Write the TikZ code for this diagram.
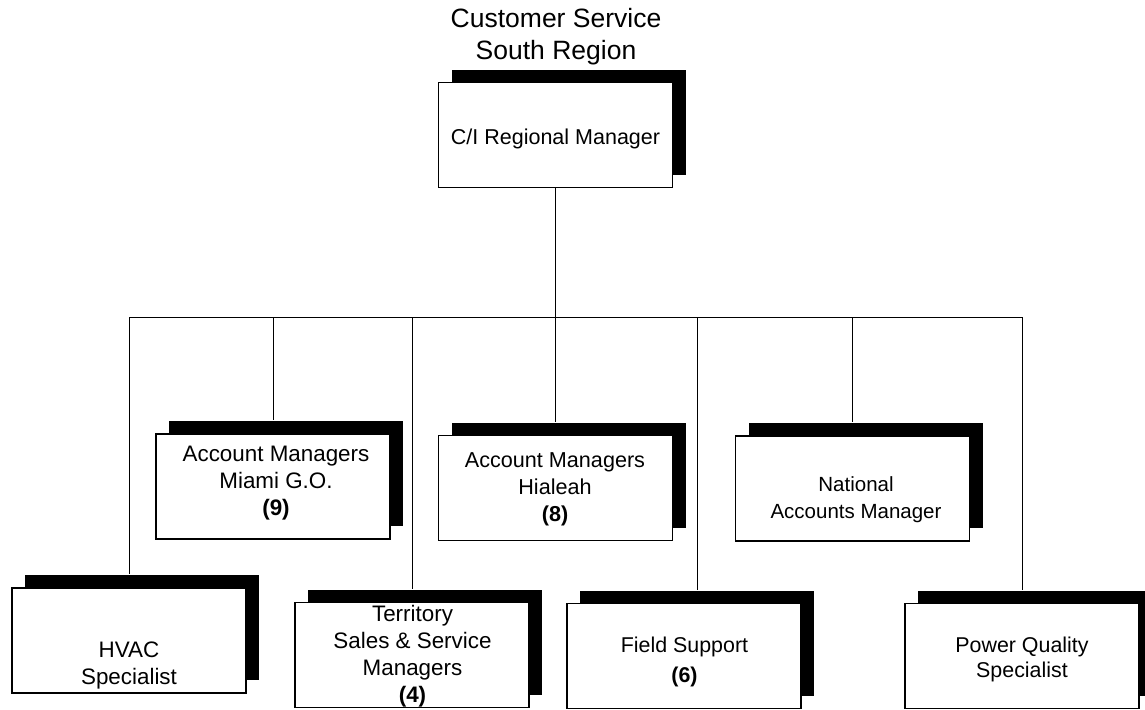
\documentclass[tikz,border=0pt]{standalone}
\usepackage{fontspec}
\setmainfont{Liberation Sans}
\usetikzlibrary{calc,shadows}

\begin{document}
\begin{tikzpicture}[x=1pt,y=-1pt,
  orgbox/.style={draw=black, line width=1.4pt, fill=white,
    minimum width=234pt, minimum height=105pt, inner sep=0pt,
    general shadow={shadow xshift=13pt, shadow yshift=13pt, fill=black}},
  boxtext/.style={align=center, inner sep=0pt, font=\fontsize{#1pt}{27pt}\selectfont},
  boxtext/.default=21.5,
  link/.style={draw=black, line width=0.9pt}]

\useasboundingbox (0,0) rectangle (1145,709);

% heading
\node[align=center, inner sep=0pt, font=\fontsize{26.5pt}{32pt}\selectfont]
  (title) at (556,37) {Customer Service\\South Region};

% boxes (each with its solid drop shadow)
\node[orgbox] (top) at (555.5,135) {};
\node[orgbox] (mia) at (273,486.5) {};
\node[orgbox] (hia) at (555.5,488) {};
\node[orgbox] (nat) at (852.5,488.5) {};
\node[orgbox] (hv)  at (129,640.5) {};
\node[orgbox] (ter) at (412,655) {};
\node[orgbox] (fs)  at (684,656) {};
\node[orgbox] (pq)  at (1022,656) {};

% box captions
\node[boxtext] (top-t) at (555.5,139) {C/I Regional Manager};
\node[boxtext=22.4] (mia-t) at (276,483) {Account Managers\\Miami G.O.\\\textbf{(9)}};
\node[boxtext=21.6] (hia-t) at (555,489) {Account Managers\\Hialeah\\\textbf{(8)}};
\node[boxtext=20.5] (nat-t) at (856,500) {National\\Accounts Manager};
\node[boxtext=22.4] (hv-t)  at (129,665) {HVAC\\Specialist};
\node[boxtext=22.4] (ter-t) at (412.5,656) {Territory\\Sales \& Service\\Managers\\\textbf{(4)}};
\node[align=center, inner sep=0pt, font=\fontsize{21.4pt}{30pt}\selectfont]
  (fs-t) at (684.5,662) {Field Support\\\textbf{(6)}};
\node[align=center, inner sep=0pt, font=\fontsize{21.4pt}{25pt}\selectfont]
  (pq-t) at (1022,659) {Power Quality\\Specialist};

% connectors
\coordinate (bus) at (0,317);
\draw[link] (top.south) -- (top.south |- bus);
\draw[link] (hv.north |- bus) -- (pq.north |- bus);
\foreach \n in {mia,hia,nat,hv,ter,pq}{
  \coordinate (\n-in) at ($(\n.north)+(0,-13)$);
  \draw[link] (\n-in |- bus) -- (\n-in);
}
\coordinate (fs-in) at ($(fs.north)+(13,-13)$);
\draw[link] (fs-in |- bus) -- (fs-in);

\end{tikzpicture}
\end{document}
